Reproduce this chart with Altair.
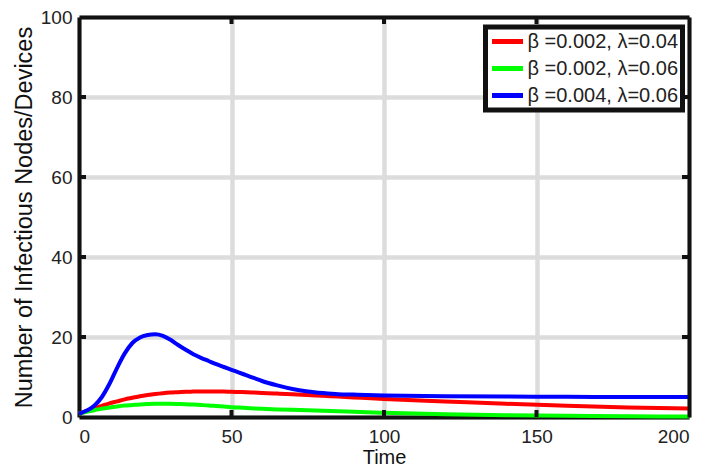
import altair as alt
import pandas as pd

# ---- data ----
time = [0, 2.5, 5, 7.5, 10, 12.5, 15, 17.5, 20, 22.5, 25, 27.5, 30, 32.5, 35, 37.5, 40, 42.5, 45, 47.5,
        50, 52.5, 55, 57.5, 60, 65, 70, 75, 80, 85, 90, 100, 120, 140, 160, 180, 200]
red_vals = [0.8, 1.5, 2.2, 2.8, 3.4, 3.9, 4.4, 4.8, 5.2, 5.5, 5.75, 5.95, 6.1, 6.2, 6.3, 6.35, 6.4, 6.4, 6.4, 6.35,
            6.3, 6.25, 6.2, 6.1, 6.0, 5.85, 5.7, 5.5, 5.3, 5.1, 4.9, 4.5, 3.9, 3.3, 2.8, 2.4, 2.1]
green_vals = [0.8, 1.3, 1.7, 2.1, 2.4, 2.65, 2.85, 3.0, 3.15, 3.25, 3.3, 3.3, 3.3, 3.25, 3.2, 3.1, 3.0, 2.9, 2.75, 2.6,
              2.45, 2.35, 2.25, 2.15, 2.05, 1.9, 1.8, 1.7, 1.55, 1.45, 1.3, 1.05, 0.7, 0.45, 0.3, 0.2, 0.1]
blue_vals = [0.8, 1.6, 2.8, 5.0, 8.3, 12.3, 15.9, 18.5, 19.9, 20.5, 20.7, 20.3, 19.3, 18.0, 16.8, 15.7, 14.8, 14.0, 13.2, 12.5,
             11.8, 11.1, 10.4, 9.7, 9.0, 7.9, 7.0, 6.4, 6.0, 5.7, 5.6, 5.4, 5.2, 5.1, 5.05, 5.0, 5.0]
labels = ["\u03b2 =0.002, \u03bb=0.04", "\u03b2 =0.002, \u03bb=0.06", "\u03b2 =0.004, \u03bb=0.06"]
colors = ["#ff0000", "#00ff00", "#0000ff"]
x_ticks = [0, 50, 100, 150, 200]
y_ticks = [0, 20, 40, 60, 80, 100]
x_inner = [50, 100, 150]
y_inner = [20, 40, 60, 80]

rows = []
for lab, vals in zip(labels, [red_vals, green_vals, blue_vals]):
    for t, v in zip(time, vals):
        rows.append({"t": t, "v": v, "s": lab})
df = pd.DataFrame(rows)

W, H = 610, 400
xs = alt.Scale(domain=[0, 200], nice=False, zero=False)
ys = alt.Scale(domain=[0, 100], nice=False)

lines = alt.Chart(df).mark_line(strokeWidth=4, interpolate="monotone").encode(
    x=alt.X("t:Q", scale=xs, axis=alt.Axis(values=x_ticks, title="Time", titleFontSize=20,
                                           labelPadding=10, titleY=46, titleBaseline="alphabetic")),
    y=alt.Y("v:Q", scale=ys, axis=alt.Axis(values=y_ticks, title="Number of Infectious Nodes/Devices",
                                           titleFontSize=23.5, labelPadding=7, titlePadding=4)),
    color=alt.Color("s:N", scale=alt.Scale(domain=labels, range=colors),
                    legend=alt.Legend(title=None, orient="none", legendX=406.5, legendY=10,
                                      symbolType="stroke", symbolStrokeWidth=5, symbolSize=961,
                                      clipHeight=21,
                                      labelFontSize=20, labelFont="Liberation Sans", labelColor="#222",
                                      labelOffset=2, rowPadding=6, padding=4,
                                      fillColor="white", strokeColor="#111")),
)

xt = pd.DataFrame({"xt": x_inner})
yt = pd.DataFrame({"yt": y_inner})

bticks = alt.Chart(xt).mark_rule(color="#111", strokeWidth=4).encode(
    x=alt.X("xt:Q", scale=xs, axis=None), y=alt.value(H), y2=alt.value(H - 7))
tticks = alt.Chart(xt).mark_rule(color="#111", strokeWidth=4).encode(
    x=alt.X("xt:Q", scale=xs, axis=alt.Axis(orient="top", labels=False, ticks=False, grid=False,
                                            title=None, domainColor="#111", domainWidth=4, zindex=1)),
    y=alt.value(0), y2=alt.value(7))
lticks = alt.Chart(yt).mark_rule(color="#111", strokeWidth=4).encode(
    y=alt.Y("yt:Q", scale=ys, axis=None), x=alt.value(0), x2=alt.value(7))
rticks = alt.Chart(yt).mark_rule(color="#111", strokeWidth=4).encode(
    y=alt.Y("yt:Q", scale=ys, axis=alt.Axis(orient="right", labels=False, ticks=False, grid=False,
                                            title=None, domainColor="#111", domainWidth=4, zindex=1)),
    x=alt.value(W), x2=alt.value(W - 7))

chart = alt.layer(lines, bticks, tticks, lticks, rticks).resolve_axis(
    x="independent", y="independent"
).properties(
    width=W, height=H,
    autosize=alt.AutoSizeParams(type="none"),
    padding={"left": 71, "top": 9, "right": 5, "bottom": 50},
).configure_view(stroke=None).configure_axis(
    labelFont="Liberation Sans", labelFontSize=19, labelColor="#222",
    titleFont="Liberation Sans", titleFontWeight="normal", titleColor="#111",
    gridColor="#dcdcdc", gridWidth=4.5, tickSize=0,
    domainColor="#111", domainWidth=4, zindex=1,
).configure_legend(strokeWidth=5)

chart.save("out.html", embed_options={"renderer": "svg", "actions": False})
